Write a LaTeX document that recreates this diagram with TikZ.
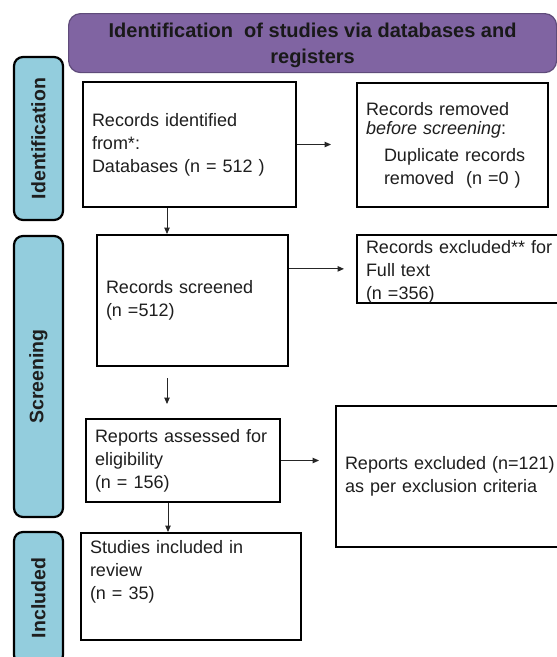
\documentclass[tikz,border=0pt]{standalone}
\usepackage{fontspec}
\setmainfont{Liberation Sans}
\usetikzlibrary{arrows.meta}
\definecolor{hdrpurple}{HTML}{8064A2}
\definecolor{hdrborder}{HTML}{5F4B7A}
\definecolor{sideblue}{HTML}{93CDDD}
\definecolor{txtgray}{HTML}{1E1E1E}
\begin{document}
\begin{tikzpicture}[x=1pt,y=-1pt,
  box/.style={draw=black, line width=2pt, fill=white, anchor=north west, align=left,
    inner xsep=9pt, inner ysep=0pt, text=txtgray, font=\fontsize{18}{23}\selectfont},
  side/.style={draw=black, line width=2.2pt, fill=sideblue, rounded corners=9pt, rotate=90,
    inner sep=0pt, minimum height=49pt, text=txtgray, font=\bfseries\fontsize{19.5}{23}\selectfont},
  hdr/.style={draw=hdrborder, line width=1.2pt, fill=hdrpurple, rounded corners=12pt, anchor=north west,
    align=center, inner sep=0pt, text=black!90, font=\bfseries\fontsize{20}{26}\selectfont},
  arr/.style={-{Triangle[length=6.5pt,width=5.5pt]}, line width=1pt, draw=black!85}
]
\useasboundingbox (0,0) rectangle (557,657);
\clip (0,0) rectangle (557,657);
\fill[white] (0,0) rectangle (557,657);

% header
\node[hdr, minimum width=488pt, minimum height=59pt] (hdr) at (68,13)
  {\rule{0pt}{20pt}Identification\ \ of studies via databases and\\registers};

% side labels
\node[side, minimum width=163pt] (sid) at (38.5,138.5) {Identification};
\node[side, minimum width=281pt] (ssc) at (38.5,376.5) {Screening};
\node[side, minimum width=132pt] (sin) at (38.5,598) {Included};

% boxes
\node[box, text width=195pt, minimum height=125pt] (id) at (82,81)
  {Records identified\\from*:\\Databases (n = 512 )};
\node[box, text width=173pt, minimum height=124pt] (rem) at (356,82)
  {Records removed\\[-4pt]\textit{before screening}:\\[4pt]\hspace*{18pt}Duplicate records\\\hspace*{18pt}removed\ \ (n =0 )};
\node[box, text width=232pt, minimum height=62pt] (exc) at (356,234)
  {\rule{0pt}{18pt}Records excluded** for\\Full text\\(n =356)};
\node[box, text width=173pt, minimum height=131pt] (scr) at (96,234)
  {Records screened\\(n =512)};
\node[box, text width=176pt, minimum height=83pt] (rep) at (85,418)
  {Reports assessed for\\eligibility\\(n = 156)};
\node[box, text width=252pt, minimum height=141pt] (rex) at (335,405)
  {Reports excluded (n=121)\\as per exclusion criteria};
\node[box, text width=202pt, minimum height=107pt] (stu) at (80,532)
  {Studies included in\\review\\(n = 35)\\[10pt]\mbox{}};

% connectors
\coordinate (ax1) at (167,0);
\coordinate (ax2) at (168,0);
\draw[arr, shorten >=25pt] (id.east) -- (id.east -| rem.west);
\draw[arr] (id.south -| ax1) -- (scr.north -| ax1);
\draw[arr, shorten >=12pt] (exc.west -| scr.east) -- (exc.west);
\draw[arr, shorten <=11pt, shorten >=14pt] (scr.south -| ax1) -- (rep.north -| ax1);
\draw[arr, shorten >=16pt] (rep.east) -- (rep.east -| rex.west);
\draw[arr] (rep.south -| ax2) -- (stu.north -| ax2);
\end{tikzpicture}
\end{document}
